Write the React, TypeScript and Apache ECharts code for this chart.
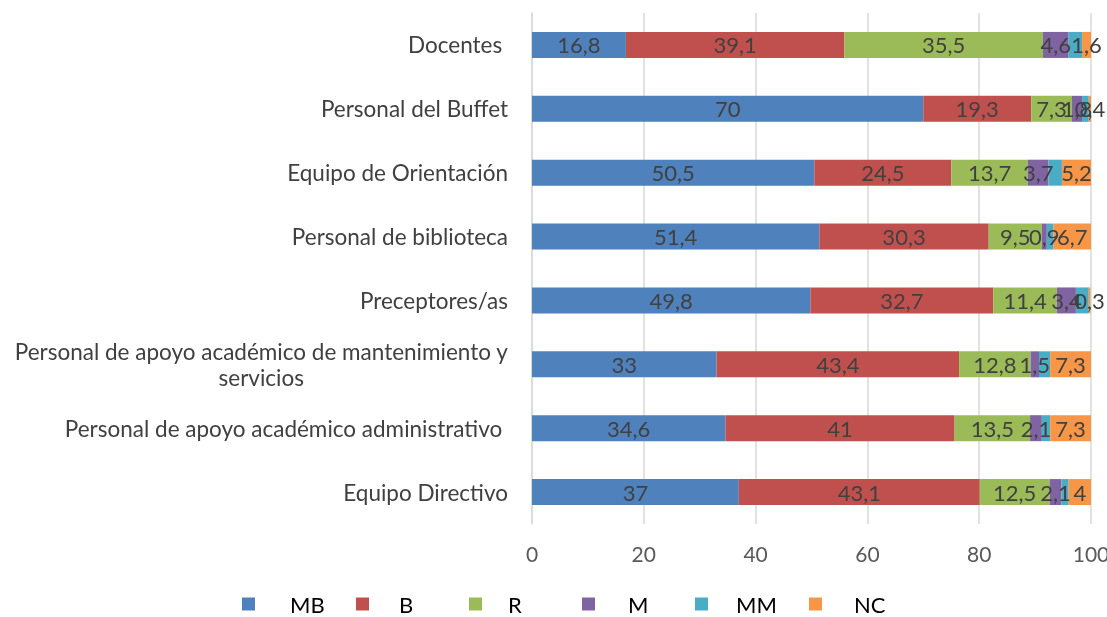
import React, { useEffect, useRef } from "react";
import * as echarts from "echarts";

const categories = [
  "Docentes ",
  "Personal del Buffet",
  "Equipo de Orientación",
  "Personal de biblioteca",
  "Preceptores/as",
  "Personal de apoyo académico de mantenimiento y\nservicios",
  "Personal de apoyo académico administrativo ",
  "Equipo Directivo",
];
const seriesNames = ["MB", "B", "R", "M", "MM", "NC"];
const MB = [16.8, 70, 50.5, 51.4, 49.8, 33, 34.6, 37];
const B = [39.1, 19.3, 24.5, 30.3, 32.7, 43.4, 41, 43.1];
const R = [35.5, 7.3, 13.7, 9.5, 11.4, 12.8, 13.5, 12.5];
const M = [4.6, 1.8, 3.7, 0.9, 3.4, 1.5, 2.1, 2.1];
const MM = [2.4, 1.2, 2.4, 1.2, 2.3, 2.0, 1.5, 1.3];
const NC = [1.6, 0.4, 5.2, 6.7, 0.3, 7.3, 7.3, 4];
const xTicks = [0, 20, 40, 60, 80, 100];
const colors = ["#4f81bd", "#c0504d", "#9bbb59", "#8064a2", "#4bacc6", "#f79646"];
const showLabels = [true, true, true, true, false, true];
const legendLeft = [242, 356, 469, 582, 695, 809];
const legendTextPad = [30, 25, 21, 28, 23, 27];

const FONT = "Lato, 'Open Sans', sans-serif";

export default function App() {
  const ref = useRef<HTMLDivElement>(null);
  useEffect(() => {
    if (!ref.current) return;
    const chart = echarts.init(ref.current, undefined, { renderer: "svg" });
    const values = [MB, B, R, M, MM, NC];
    chart.setOption({
      animation: false,
      grid: {
        left: 532,
        right: 16,
        top: 13,
        bottom: 93,
        containLabel: false,
        outerBoundsMode: "none",
      },
      legend: seriesNames.map((name, i) => ({
        data: [name],
        left: legendLeft[i],
        top: 593,
        padding: 0,
        itemWidth: 13,
        itemHeight: 13,
        icon: "rect",
        textStyle: {
          fontFamily: FONT,
          fontSize: 22,
          color: "#000",
          padding: [0, 0, 0, legendTextPad[i]],
        },
      })),
      xAxis: {
        type: "value",
        min: 0,
        max: 100,
        interval: 20,
        axisLine: { show: false },
        axisTick: { show: false },
        splitLine: { lineStyle: { color: "#d9d9d9", width: 1.5 } },
        axisLabel: {
          margin: 19,
          fontFamily: FONT,
          fontSize: 21,
          color: "#595959",
          formatter: (v: number) => (xTicks.includes(v) ? String(v) : ""),
        },
      },
      yAxis: {
        type: "category",
        data: categories,
        inverse: true,
        axisTick: { show: false },
        axisLine: { show: true, lineStyle: { color: "#d9d9d9", width: 1.5 } },
        axisLabel: {
          margin: 24,
          fontFamily: FONT,
          fontSize: 22.5,
          color: "#404040",
          formatter: (v: string) =>
            v.split("\n").map((l) => `{c|${l}}`).join("\n"),
          rich: {
            c: { align: "center", fontFamily: FONT, fontSize: 22.5, color: "#404040", lineHeight: 26 },
          },
        },
      },
      series: seriesNames.map((name, i) => ({
        name,
        type: "bar",
        stack: "total",
        barWidth: 26,
        itemStyle: { color: colors[i] },
        label: {
          show: showLabels[i],
          position: "inside",
          fontFamily: FONT,
          fontSize: 22,
          color: "#404040",
          formatter: (p: any) => String(p.value).replace(".", ","),
        },
        data: values[i],
      })),
    });
    return () => chart.dispose();
  }, []);
  return (
    <div
      ref={ref}
      style={{ position: "fixed", left: 0, top: 0, width: 1107, height: 617 }}
    />
  );
}
